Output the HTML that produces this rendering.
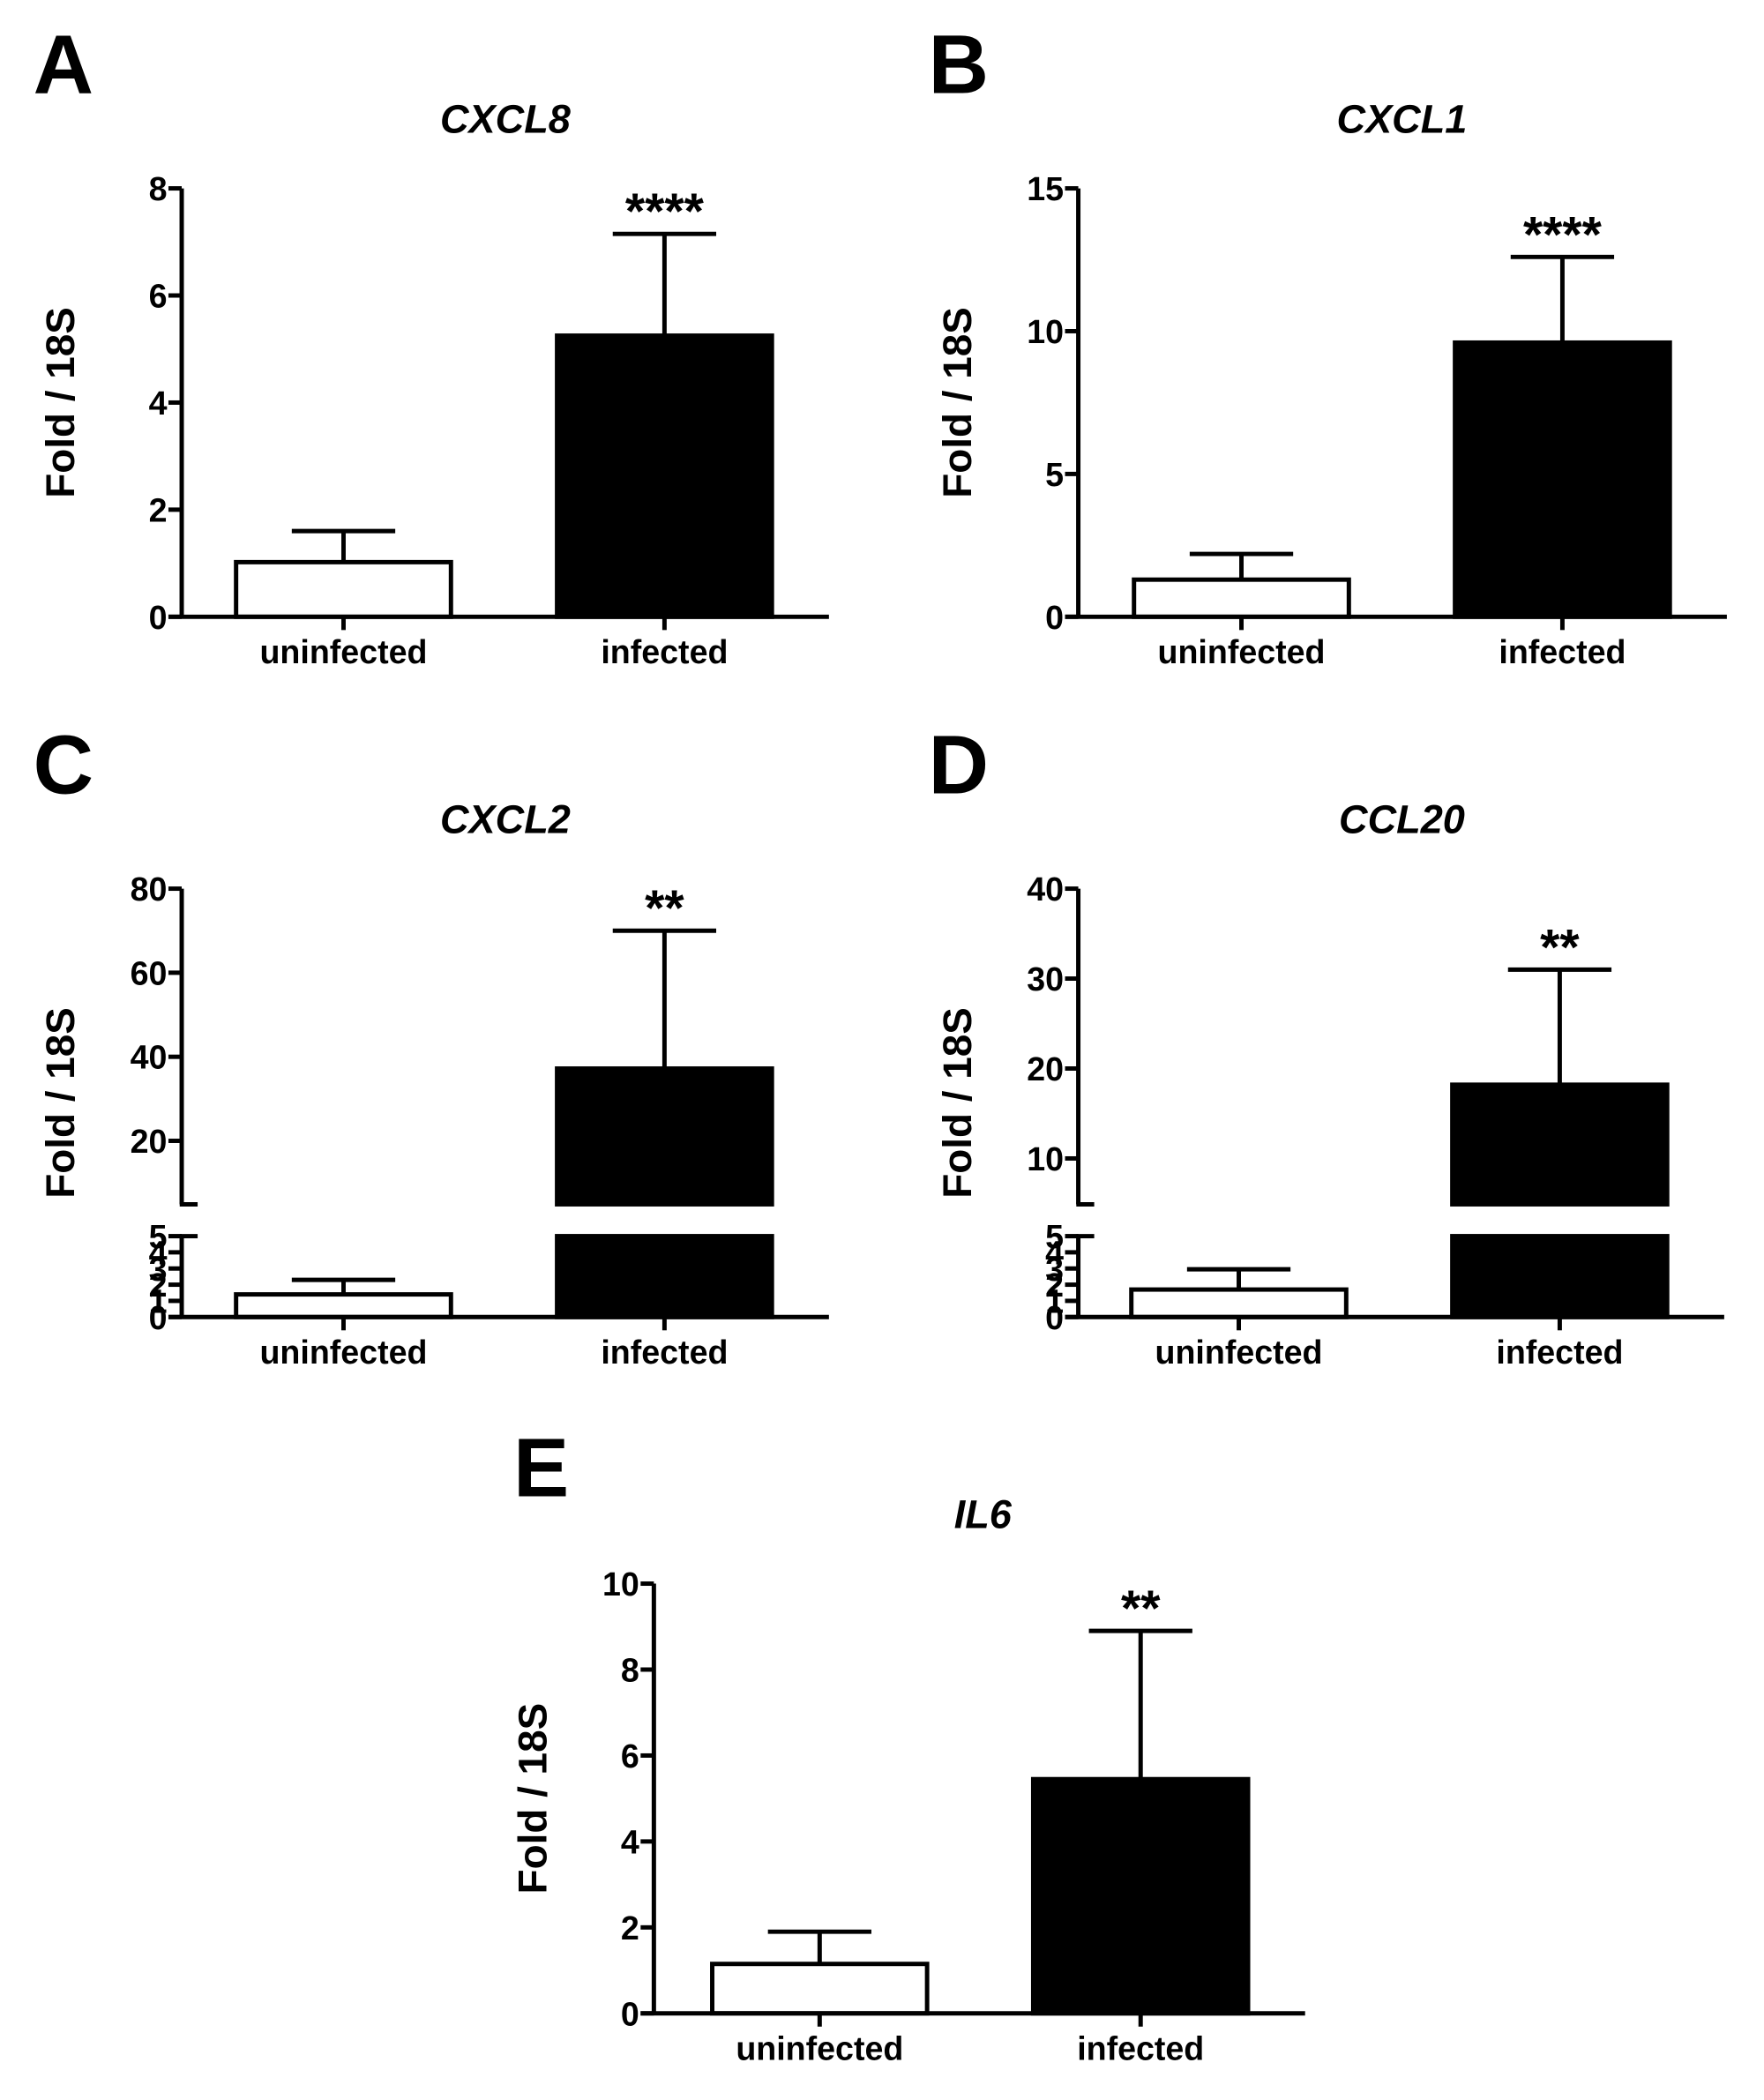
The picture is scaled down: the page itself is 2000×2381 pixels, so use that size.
<!DOCTYPE html>
<html><head><meta charset="utf-8"><style>
html,body{margin:0;padding:0;background:#fff}
svg{display:block}
text{font-family:"Liberation Sans",Arial,sans-serif;font-weight:bold;fill:#000}
</style></head><body>
<svg id="fig" width="2000" height="2381" viewBox="0 0 1330 1583.3" xmlns="http://www.w3.org/2000/svg"></svg>
<script>
// ---- data ----
const categories = ["uninfected", "infected"];
const panelLetters = ["A", "B", "C", "D", "E"];
const geneTitles = ["CXCL8", "CXCL1", "CXCL2", "CCL20", "IL6"];
const meanA = [1.02, 5.25];   const errA = [1.6, 7.15];
const meanB = [1.3, 9.6];     const errB = [2.2, 12.6];
const meanC = [1.4, 37.2];    const errC = [2.3, 70];
const meanD = [1.7, 18.2];    const errD = [2.95, 31];
const meanE = [1.15, 5.45];   const errE = [1.9, 8.9];
const ticksA = [0, 2, 4, 6, 8];
const ticksB = [0, 5, 10, 15];
const ticksCupper = [20, 40, 60, 80]; const ticksClower = [0, 1, 2, 3, 4, 5];
const ticksDupper = [10, 20, 30, 40]; const ticksDlower = [0, 1, 2, 3, 4, 5];
const ticksE = [0, 2, 4, 6, 8, 10];
const starsLabels = ["****", "****", "**", "**", "**"];

const NS = "http://www.w3.org/2000/svg";
const svg = document.getElementById('fig');
const SW = 3.3;
function mk(tag, attrs, parent) {
  const e = document.createElementNS(NS, tag);
  for (const k in attrs) e.setAttribute(k, attrs[k]);
  (parent || svg).appendChild(e);
  return e;
}
function line(g, x1, y1, x2, y2, name) {
  const l = mk('line', {x1, y1, x2, y2, stroke: '#000', 'stroke-width': SW}, g);
  
  
  return l;
}
function txt(g, x, y, s, size, anchor, name, extra) {
  const t = mk('text', Object.assign({x, y, 'font-size': size, 'text-anchor': anchor}, extra || {}), g);
  t.textContent = s;
  
  
  return t;
}
function makeScale(segs) {
  return function (v) {
    for (const s of segs) if (v >= s.v0 - 1e-9 && v <= s.v1 + 1e-9) return s.y0 + (v - s.v0) * (s.y1 - s.y0) / (s.v1 - s.v0);
    const s = segs[segs.length - 1];
    return s.y0 + (v - s.v0) * (s.y1 - s.y0) / (s.v1 - s.v0);
  };
}

function panel(p) {
  const g = mk('g', {});
  
  
  const ax = p.ax, base = p.base;
  const y = makeScale(p.segs);
  txt(g, p.lx, p.ly, p.letter, 63, 'start', 'panel-label');
  txt(g, p.tx, p.ty, p.title, 30, 'middle', 'chart-title', {'font-style': 'italic'});
  const yc = (p.segs[p.segs.length - 1].y1 + base) / 2;
  txt(g, 0, 0, 'Fold / 18S', 30.5, 'middle', 'y-axis-title', {transform: `translate(${ax - 81},${yc}) rotate(-90)`});
  const cx = [p.x0 + 81, p.x0 + 81 + 242];
  const halfW = 81;
  p.mean.forEach((m, i) => {
    const fill = i === 0 ? '#fff' : '#000';
    const topY = y(m);
    if (p.segs.length === 1) {
      const r = mk('rect', {x: cx[i] - halfW, y: topY, width: 2 * halfW, height: base - topY, fill, stroke: '#000', 'stroke-width': SW}, g);
      
      
    } else {
      const lowTop = p.segs[0].y1, upBot = p.segs[1].y0;
      const lowerTopV = p.segs[0].v1;
      const yl = m > lowerTopV ? lowTop : topY;
      const r = mk('rect', {x: cx[i] - halfW, y: yl, width: 2 * halfW, height: base - yl, fill, stroke: '#000', 'stroke-width': SW}, g);
      
      
      if (m > lowerTopV) {
        const r2 = mk('rect', {x: cx[i] - halfW, y: topY, width: 2 * halfW, height: upBot - topY, fill, stroke: '#000', 'stroke-width': SW}, g);
        
        
      }
    }
    const ey = y(p.err[i]);
    line(g, cx[i], topY, cx[i], ey, 'error-bar-' + categories[i]);
    line(g, cx[i] - 39, ey, cx[i] + 39, ey, 'error-cap-' + categories[i]);
    txt(g, cx[i], base + 35, categories[i], 25, 'middle', 'x-tick-label-' + categories[i]);
    line(g, cx[i], base, cx[i], base + 10, 'x-tick');
  });
  txt(g, cx[1], y(p.err[1]) - 4, p.stars, 38, 'middle', 'significance-stars');
  p.segs.forEach((s, si) => {
    line(g, ax, s.y0, ax, s.y1, 'y-axis-line');
    if (p.segs.length > 1) {
      if (si === 1) line(g, ax - 1.5, s.y0, ax + 12, s.y0, 'axis-break-mark');
      else line(g, ax - 1.5, s.y1, ax + 12, s.y1, 'axis-break-mark');
    }
  });
  p.ticks.forEach(v => {
    const ty = y(v);
    line(g, ax - 10, ty, ax, ty, 'y-tick');
    txt(g, ax - 11, ty + 9, String(v), 25, 'end', 'y-tick-label');
  });
  line(g, ax - 10, base, p.x0 + 447, base, 'x-axis-line');
}

const panels = [
  {letter: 'A', title: geneTitles[0], lx: 25, ly: 70, tx: 381, ty: 100, ax: 137, base: 465, x0: 178,
   segs: [{v0: 0, v1: 8, y0: 465, y1: 142}], mean: meanA, err: errA, ticks: ticksA, stars: starsLabels[0]},
  {letter: 'B', title: geneTitles[1], lx: 700, ly: 70, tx: 1057, ty: 100, ax: 813, base: 465, x0: 855,
   segs: [{v0: 0, v1: 15, y0: 465, y1: 142}], mean: meanB, err: errB, ticks: ticksB, stars: starsLabels[1]},
  {letter: 'C', title: geneTitles[2], lx: 25, ly: 598, tx: 381, ty: 628, ax: 137, base: 993, x0: 178,
   segs: [{v0: 0, v1: 5, y0: 993, y1: 932}, {v0: 4.9, v1: 80, y0: 908, y1: 670}],
   mean: meanC, err: errC, ticks: ticksClower.concat(ticksCupper), stars: starsLabels[2]},
  {letter: 'D', title: geneTitles[3], lx: 700, ly: 598, tx: 1057, ty: 628, ax: 813, base: 993, x0: 853,
   segs: [{v0: 0, v1: 5, y0: 993, y1: 932}, {v0: 4.9, v1: 40, y0: 908, y1: 670}],
   mean: meanD, err: errD, ticks: ticksDlower.concat(ticksDupper), stars: starsLabels[3]},
  {letter: 'E', title: geneTitles[4], lx: 387, ly: 1128, tx: 741, ty: 1152, ax: 493, base: 1518, x0: 537,
   segs: [{v0: 0, v1: 10, y0: 1518, y1: 1194}], mean: meanE, err: errE, ticks: ticksE, stars: starsLabels[4]}
];
panels.forEach(panel);
</script>
</body></html>
